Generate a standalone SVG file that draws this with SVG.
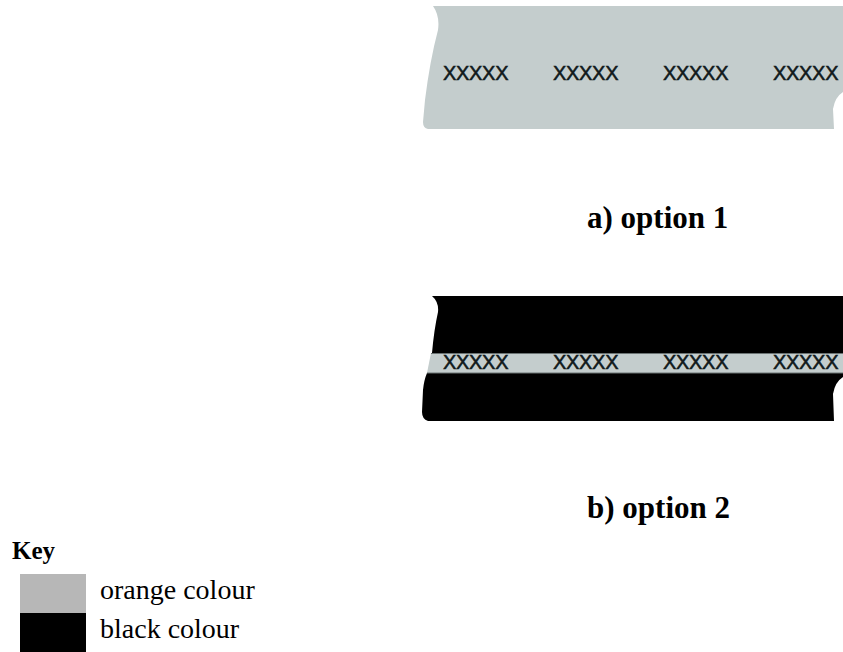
<svg xmlns="http://www.w3.org/2000/svg" width="843" height="652" viewBox="0 0 843 652">
<style>
.band{fill:#c4cdcd}
.blk{fill:#000}
.xs{font-family:"Liberation Sans",Arial,sans-serif;font-size:20px;fill:#111a1c;stroke:#111a1c;stroke-width:0.5;letter-spacing:-0.3px}
.lbl{font-family:"Liberation Serif","Times New Roman",serif;font-weight:bold;font-size:31px;fill:#000}
.key{font-family:"Liberation Serif","Times New Roman",serif;font-size:28px;fill:#000}
</style>
<rect width="843" height="652" fill="#fff"/>
<g id="option1">
<path class="band" d="M433,6 L843,6 L843,92 Q835,97 833,109 L834,129 L428,129 Q423,128 423,122 L425,100 Q430,60 438,30 Q440,16 433,6 Z"/>
<text class="xs" x="443" y="80">XXXXX</text>
<text class="xs" x="553" y="80">XXXXX</text>
<text class="xs" x="663" y="80">XXXXX</text>
<text class="xs" x="773" y="80">XXXXX</text>
<text class="lbl" x="587" y="228">a) option 1</text>
</g>
<g id="option2">
<path class="blk" d="M432,296 L843,296 L843,353 L432,353 Q434,330 438,312 Q439,302 432,296 Z"/>
<path class="band" d="M431,353 L843,353 L843,373 L427,373 Z"/>
<path class="blk" d="M427,373 L843,373 L843,377 Q835,382 833,394 L834,421 L428,421 Q422,419 422,412 L423,390 Q424,380 427,373 Z"/>
<line x1="431" y1="353.5" x2="843" y2="353.5" stroke="#6b7373" stroke-width="1"/>
<line x1="427" y1="373" x2="843" y2="373" stroke="#6b7373" stroke-width="1"/>
<text class="xs" x="443" y="369">XXXXX</text>
<text class="xs" x="553" y="369">XXXXX</text>
<text class="xs" x="663" y="369">XXXXX</text>
<text class="xs" x="773" y="369">XXXXX</text>
<text class="lbl" x="587" y="518">b) option 2</text>
</g>
<g id="key">
<text class="lbl" x="12" y="559" style="font-size:25px">Key</text>
<rect x="20" y="574" width="66" height="39" fill="#b7b7b7"/>
<rect x="20" y="613" width="66" height="39" fill="#000"/>
<text class="key" x="100" y="599">orange colour</text>
<text class="key" x="100" y="638">black colour</text>
</g>
</svg>
